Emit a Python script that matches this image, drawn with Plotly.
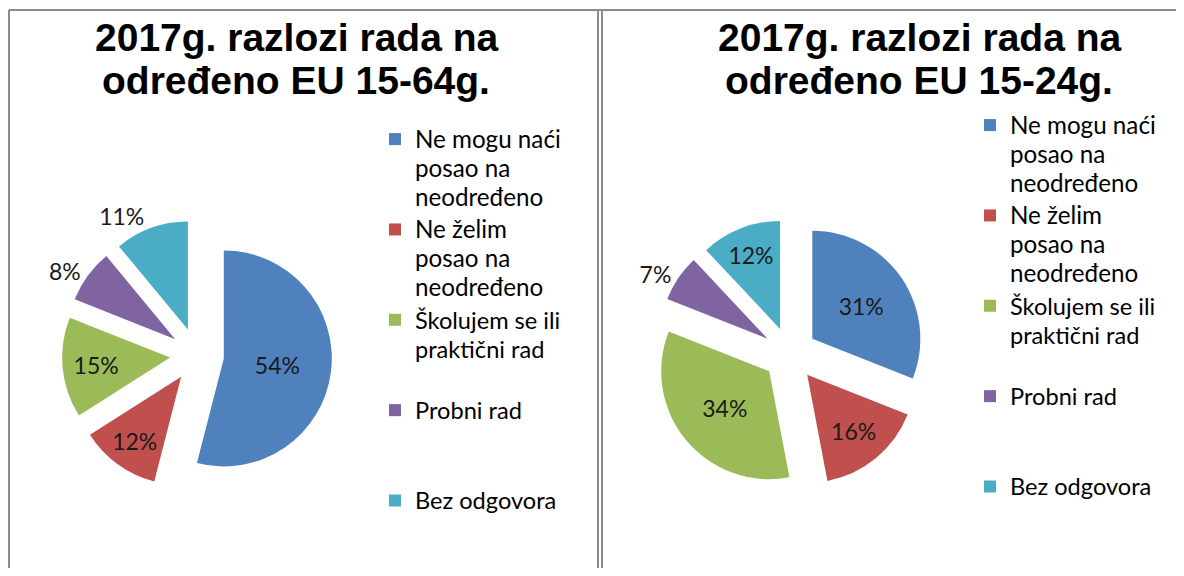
import plotly.graph_objects as go

# ---- data ----
categories = [
    "Ne mogu naći posao na neodređeno",
    "Ne želim posao na neodređeno",
    "Školujem se ili praktični rad",
    "Probni rad",
    "Bez odgovora",
]
legend_lines = [
    ["Ne mogu naći", "posao na", "neodređeno"],
    ["Ne želim", "posao na", "neodređeno"],
    ["Školujem se ili", "praktični rad"],
    ["Probni rad"],
    ["Bez odgovora"],
]
legend_sizes = [24.2, 24.2, 23.6, 23.6, 23.6]
values_15_64 = [54, 12, 15, 8, 11]
values_15_24 = [31, 16, 34, 7, 12]
title_15_64 = ["2017g. razlozi rada na", "određeno EU 15-64g."]
title_15_24 = ["2017g. razlozi rada na", "određeno EU 15-24g."]

colors = ["#4F81BD", "#C0504D", "#9BBB59", "#8064A2", "#4BACC6"]

PAGE_W, PAGE_H = 1184, 576
BODY = 8  # default page margin around the plot div
W, H = PAGE_W - 2 * BODY, PAGE_H - 2 * BODY


def px_x(v):
    return (v - BODY) / W


def px_y(v):
    return 1 - (v - BODY) / H


def legend_label(lines, size, last=False, suffix=""):
    padded = lines if last else lines + ["\u00a0"] * (3 - len(lines))
    return "<br>".join(
        '<span style="font-size:%spx">%s</span>' % (size, t) for t in padded
    ) + suffix


n = len(legend_lines)
labels_left = [legend_label(l, s, i == n - 1)
               for i, (l, s) in enumerate(zip(legend_lines, legend_sizes))]
labels_right = [legend_label(l, s, i == n - 1, "\u200b")
                for i, (l, s) in enumerate(zip(legend_lines, legend_sizes))]

fig = go.Figure()

pie_common = dict(
    sort=False,
    direction="clockwise",
    rotation=0,
    pull=0.25,
    marker=dict(colors=colors, line=dict(width=0)),
    texttemplate="%{value}%",
    insidetextorientation="horizontal",
    textfont=dict(family="Lato", size=23, color="#1a1a1a"),
    hoverinfo="label+percent",
)

# left pie: centre (197, 355), radius 108
fig.add_trace(go.Pie(
    labels=labels_left,
    values=values_15_64,
    domain=dict(x=[px_x(62), px_x(332)], y=[px_y(490), px_y(220)]),
    textposition=["inside", "inside", "inside", "outside", "outside"],
    legend="legend",
    name="15-64",
    **pie_common,
))
# right pie: centre (790, 354), radius 108
fig.add_trace(go.Pie(
    labels=labels_right,
    values=values_15_24,
    domain=dict(x=[px_x(655), px_x(925)], y=[px_y(489), px_y(219)]),
    textposition=["inside", "inside", "inside", "outside", "inside"],
    legend="legend2",
    name="15-24",
    **pie_common,
))

legend_common = dict(
    font=dict(family="Lato", size=22.4, color="#000000"),
    bgcolor="rgba(0,0,0,0)",
    valign="top",
    xanchor="left",
    yanchor="top",
    traceorder="normal",
)

fig.update_layout(
    width=W,
    height=H,
    margin=dict(l=0, r=0, t=0, b=0, autoexpand=False),
    paper_bgcolor="white",
    plot_bgcolor="white",
    showlegend=True,
    legend=dict(x=px_x(375), y=px_y(118), **legend_common),
    legend2=dict(x=px_x(970), y=px_y(104), **legend_common),
)

# titles
title_font = dict(family="Liberation Sans", size=39, color="#000000")
for cx, lines in [(296, title_15_64), (919, title_15_24)]:
    for i, line in enumerate(lines):
        fig.add_annotation(
            text="<b>" + line + "</b>",
            x=px_x(cx), y=px_y(37 + 43 * i),
            xref="paper", yref="paper",
            xanchor="center", yanchor="middle",
            showarrow=False, font=title_font,
        )

# panel borders
border = dict(color="#8c8c8c", width=2)
for x0, y0, x1, y1 in [(9, 10, PAGE_W, 10), (9, 10, 9, PAGE_H),
                       (598, 10, 598, PAGE_H), (602, 10, 602, PAGE_H)]:
    fig.add_shape(type="line", xref="paper", yref="paper",
                  x0=px_x(x0), y0=px_y(y0), x1=px_x(x1), y1=px_y(y1), line=border)

fig.write_html("out.html")
